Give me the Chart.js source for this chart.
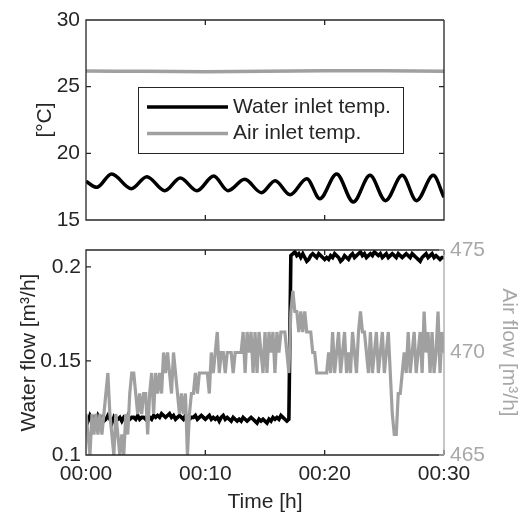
<!DOCTYPE html>
<html lang="en">
<head>
<meta charset="UTF-8">
<title>chart</title>
<script src="https://cdn.jsdelivr.net/npm/chart.js"></script>
<style>
  html,body{margin:0;padding:0;background:#fff;}
  .wrap{position:relative;width:521px;height:515px;}
  #tempChart{position:absolute;left:0;top:0;}
  #flowChart{position:absolute;left:0;top:240px;}
</style>
</head>
<body>
<div class="wrap">
  <canvas id="tempChart" width="521" height="240"></canvas>
  <canvas id="flowChart" width="521" height="275"></canvas>
</div>
<script>
// ---- data (time in minutes) ----
const timeTicks = [0, 10, 20, 30];
const tempTicks = [15, 20, 25, 30];
const waterFlowTicks = [0.1, 0.15, 0.2];
const airFlowTicks = [465, 470, 475];

// water inlet temp: turning points of the oscillation
const waterTempTime = [0, 0.9, 2.15, 3.8, 5.1, 6.6, 7.9, 9.3, 10.7, 11.9, 13.3, 14.7, 15.85, 17.1, 18.5, 19.6, 21.0, 22.4, 23.8, 25.1, 26.5, 27.7, 29.1, 30];
const waterTemp = [17.9, 17.45, 18.45, 17.35, 18.25, 17.2, 18.15, 17.2, 18.3, 17.2, 18.05, 17.05, 17.95, 16.9, 18.1, 16.6, 18.45, 16.35, 18.35, 16.45, 18.35, 16.45, 18.35, 16.7];

const airTempTime = [0, 5, 10, 15, 20, 25, 30];
const airTemp = [26.18, 26.15, 26.12, 26.16, 26.2, 26.19, 26.15];

// flow samples every 10 s
const waterFlow = [
  0.120,0.118,0.121,0.119,0.120,0.118,
  0.121,0.119,0.120,0.118,0.119,0.121,
  0.119,0.117,0.120,0.118,0.119,0.120,
  0.118,0.120,0.119,0.121,0.119,0.120,
  0.120,0.119,0.121,0.119,0.120,0.120,
  0.119,0.121,0.120,0.119,0.121,0.120,
  0.121,0.120,0.122,0.121,0.120,0.121,
  0.122,0.120,0.121,0.119,0.120,0.121,
  0.120,0.119,0.121,0.120,0.119,0.120,
  0.120,0.121,0.119,0.120,0.121,0.120,
  0.119,0.120,0.121,0.119,0.120,0.119,
  0.120,0.118,0.120,0.121,0.119,0.120,
  0.119,0.118,0.120,0.119,0.118,0.119,
  0.118,0.120,0.119,0.118,0.119,0.120,
  0.119,0.118,0.117,0.119,0.118,0.119,
  0.118,0.117,0.119,0.118,0.120,0.119,
  0.120,0.119,0.121,0.120,0.119,0.118,
  0.119,0.206,0.207,0.208,0.206,0.207,
  0.205,0.207,0.205,0.203,0.204,0.206,
  0.207,0.206,0.205,0.207,0.206,0.205,
  0.204,0.205,0.204,0.206,0.205,0.207,
  0.206,0.205,0.203,0.204,0.206,0.205,
  0.204,0.206,0.207,0.205,0.206,0.207,
  0.208,0.206,0.207,0.205,0.206,0.207,
  0.206,0.208,0.207,0.206,0.207,0.205,
  0.206,0.207,0.205,0.206,0.207,0.206,
  0.205,0.207,0.206,0.205,0.206,0.207,
  0.206,0.205,0.207,0.206,0.205,0.204,
  0.203,0.205,0.206,0.207,0.205,0.206,
  0.207,0.205,0.206,0.205,0.204,0.205,
  0.205
];
const airFlow = [
  467,466,465,467,466,467,
  466,467,466,467,468,469,
  467,466,465,467,466,465,
  466,465,467,466,468,469,
  469,468,467,468,467,468,
  468,466,468,469,467,469,
  468,469,468,470,469,470,
  469,468,470,469,468,467,
  468,467,468,465,467,468,
  468,469,468,469,469,469,
  469,469,468,470,469,470,
  471,469,470,470,469,470,
  470,470,469,470,470,470,
  470,471,469,471,470,471,
  469,471,469,471,470,469,
  471,469,471,470,471,469,
  471,470,471,471,471,470,
  469,472,473,472,472,471,
  472,471,472,471,471,471,
  470,470,469,469,469,469,
  469,469,470,469,471,469,
  470,471,469,470,471,469,
  470,469,471,470,469,471,
  472,471,471,470,469,471,
  469,470,471,469,470,471,
  469,470,471,469,467,466,
  466,468,468,469,470,469,
  471,469,470,471,469,470,
  471,469,472,470,471,469,
  471,469,470,472,469,471,
  470
];
const flowTime = waterFlow.map((_, i) => i / 6);

// ---- style ----
const axisColor = '#262626';
const grayLine = '#a0a0a0';
const grayText = '#a8a8a8';

Chart.defaults.font.family = '"Liberation Sans", Arial, sans-serif';
Chart.defaults.font.size = 21;
Chart.defaults.color = axisColor;

const xy = (xs, ys) => xs.map((x, i) => ({x: x, y: ys[i]}));
const fixTicks = list => scale => { scale.ticks = list.map(v => ({value: v})); };
const fmtNum = v => String(+Number(v).toFixed(3));
const fmtTime = v => '00:' + String(v).padStart(2, '0');
const noGrid = {display: false, drawTicks: false};
// force a fixed axis size and drop the automatic label padding
const fixSize = (w, h) => s => {
  if (w != null) s.width = w;
  if (h != null) s.height = h;
  s.paddingTop = s.paddingBottom = s.paddingLeft = s.paddingRight = 0;
};

// box around plot area + inward tick marks (matlab look)
const matlabBox = {
  id: 'matlabBox',
  afterDatasetsDraw(chart) {
    const {ctx, chartArea: {left, right, top, bottom}, scales} = chart;
    const len = 5;
    ctx.save();
    ctx.lineWidth = 1.3;
    ctx.strokeStyle = axisColor;
    ctx.beginPath();
    ctx.moveTo(right, top); ctx.lineTo(left, top); ctx.lineTo(left, bottom); ctx.lineTo(right, bottom);
    if (!scales.y2) ctx.lineTo(right, top);
    scales.x.ticks.forEach(t => {
      const px = scales.x.getPixelForValue(t.value);
      ctx.moveTo(px, bottom); ctx.lineTo(px, bottom - len);
      ctx.moveTo(px, top); ctx.lineTo(px, top + len);
    });
    scales.y.ticks.forEach(t => {
      const py = scales.y.getPixelForValue(t.value);
      ctx.moveTo(left, py); ctx.lineTo(left + len, py);
      if (!scales.y2) { ctx.moveTo(right, py); ctx.lineTo(right - len, py); }
    });
    ctx.stroke();
    if (scales.y2) {
      ctx.strokeStyle = grayText;
      ctx.beginPath();
      ctx.moveTo(right, top); ctx.lineTo(right, bottom);
      scales.y2.ticks.forEach(t => {
        const py = scales.y2.getPixelForValue(t.value);
        ctx.moveTo(right, py); ctx.lineTo(right - len, py);
      });
      ctx.stroke();
    }
    ctx.restore();
  }
};

// legend box inside the top plot
const boxLegend = {
  id: 'boxLegend',
  afterDraw(chart, args, opts) {
    if (!opts.show) return;
    const {ctx} = chart;
    const b = opts.box;
    ctx.save();
    ctx.fillStyle = '#fff';
    ctx.fillRect(b.x, b.y, b.w, b.h);
    ctx.lineWidth = 1;
    ctx.strokeStyle = axisColor;
    ctx.strokeRect(b.x + 0.5, b.y + 0.5, b.w, b.h);
    ctx.font = '21px "Liberation Sans", Arial, sans-serif';
    ctx.textBaseline = 'middle';
    chart.data.datasets.forEach((ds, i) => {
      const y = b.y + opts.rowStart + i * opts.rowGap;
      ctx.strokeStyle = ds.borderColor;
      ctx.lineWidth = 3.5;
      ctx.beginPath();
      ctx.moveTo(b.x + 9, y); ctx.lineTo(b.x + 90, y);
      ctx.stroke();
      ctx.fillStyle = axisColor;
      ctx.fillText(ds.label, b.x + 95, y);
    });
    ctx.restore();
  }
};

// ---- top: temperatures ----
new Chart(document.getElementById('tempChart'), {
  type: 'line',
  data: {
    datasets: [
      {label: 'Water inlet temp.', data: xy(waterTempTime, waterTemp), borderColor: '#000', borderWidth: 3.5,
       pointRadius: 0, cubicInterpolationMode: 'monotone'},
      {label: 'Air inlet temp.', data: xy(airTempTime, airTemp), borderColor: grayLine, borderWidth: 3.5,
       pointRadius: 0, tension: 0.4}
    ]
  },
  options: {
    responsive: false,
    animation: false,
    devicePixelRatio: 1,
    layout: {autoPadding: false, padding: {top: 20, right: 77, bottom: 0, left: 0}},
    plugins: {
      legend: {display: false},
      tooltip: {enabled: false},
      boxLegend: {show: true, box: {x: 138, y: 87, w: 265, h: 66}, rowStart: 20, rowGap: 26.5}
    },
    scales: {
      x: {type: 'linear', min: 0, max: 30, afterBuildTicks: fixTicks(timeTicks),
          ticks: {display: false}, grid: noGrid, border: {display: false},
          afterFit: fixSize(null, 20)},
      y: {min: 15, max: 30, afterBuildTicks: fixTicks(tempTicks),
          ticks: {padding: 6, callback: fmtNum},
          grid: noGrid, border: {display: false},
          title: {display: true, text: '[°C]', padding: {top: 33, bottom: 0}},
          afterFit: fixSize(86, null)}
    }
  },
  plugins: [matlabBox, boxLegend]
});

// ---- bottom: flows ----
new Chart(document.getElementById('flowChart'), {
  type: 'line',
  data: {
    datasets: [
      {label: 'Air flow', data: xy(flowTime, airFlow), yAxisID: 'y2', borderColor: grayLine, borderWidth: 3.2,
       pointRadius: 0},
      {label: 'Water flow', data: xy(flowTime, waterFlow), yAxisID: 'y', borderColor: '#000', borderWidth: 3.6,
       pointRadius: 0}
    ]
  },
  options: {
    responsive: false,
    animation: false,
    devicePixelRatio: 1,
    layout: {autoPadding: false, padding: {top: 10, right: 0, bottom: 0, left: 0}},
    plugins: {legend: {display: false}, tooltip: {enabled: false}},
    scales: {
      x: {type: 'linear', min: 0, max: 30, afterBuildTicks: fixTicks(timeTicks),
          ticks: {padding: 7, callback: fmtTime, maxRotation: 0},
          grid: noGrid, border: {display: false},
          title: {display: true, text: 'Time [h]', padding: {top: 1, bottom: 0}},
          afterFit: fixSize(null, 60)},
      y: {position: 'left', min: 0.1, max: 0.209, afterBuildTicks: fixTicks(waterFlowTicks),
          ticks: {padding: 5, callback: fmtNum},
          grid: noGrid, border: {display: false},
          title: {display: true, text: 'Water flow [m³/h]', padding: {top: 17, bottom: 0}},
          afterFit: fixSize(86, null)},
      y2: {position: 'right', min: 465, max: 475, afterBuildTicks: fixTicks(airFlowTicks),
           ticks: {padding: 6, color: grayText, callback: fmtNum},
           grid: noGrid, border: {display: false},
           title: {display: true, text: 'Air flow [m³/h]', color: grayText, padding: {top: 0, bottom: 0}},
           afterFit: fixSize(77, null)}
    }
  },
  plugins: [matlabBox]
});
</script>
</body>
</html>
